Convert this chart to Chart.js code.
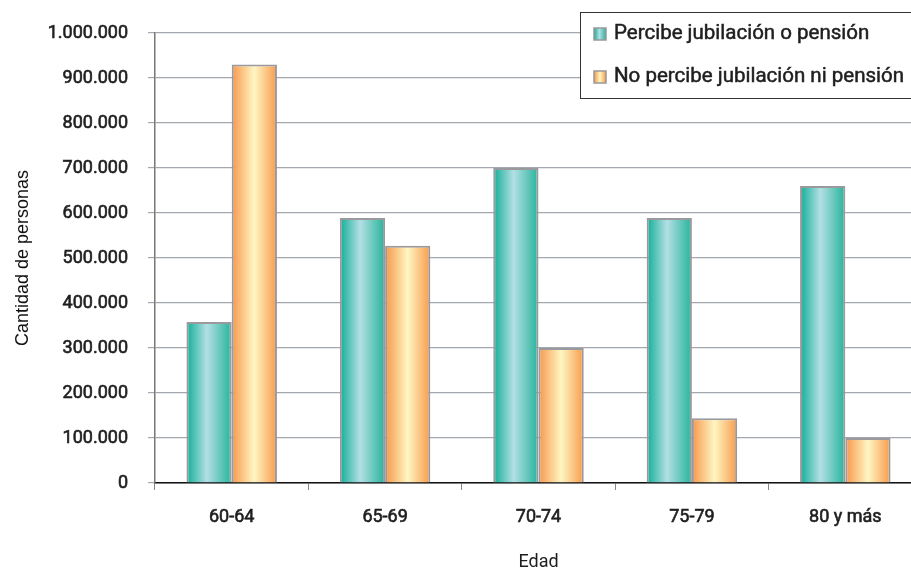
<!DOCTYPE html>
<html>
<head>
<meta charset="utf-8">
<script src="https://cdn.jsdelivr.net/npm/chart.js@4/dist/chart.umd.min.js"></script>
<style>
html,body{margin:0;padding:0;background:#fff;overflow:hidden;}
#wrap{position:relative;width:925px;height:569px;}
</style>
</head>
<body>
<div id="wrap"><canvas id="c" width="925" height="569"></canvas></div>
<script>
const categories = ["60-64", "65-69", "70-74", "75-79", "80 y más"];
const seriesNames = ["Percibe jubilación o pensión", "No percibe jubilación ni pensión"];
const percibe = [358000, 589000, 700000, 589000, 660000];
const noPercibe = [930000, 527000, 300000, 144000, 100000];
const yTicks = [0, 100000, 200000, 300000, 400000, 500000, 600000, 700000, 800000, 900000, 1000000];
const axisTitles = {x: "Edad", y: "Cantidad de personas"};

const gradStops = [
  [[0, "#10ae97"], [0.45, "#b3dfe4"], [1, "#25b49a"]],
  [[0, "#f7974a"], [0.5, "#fff6c2"], [1, "#f89a4c"]]
];
const CAT_PCT = 0.59;
const TXT = "#1e1e1e";

function fmt(v){ return String(v).replace(/\B(?=(\d{3})+(?!\d))/g, "."); }

function makeGrad(ctx, x0, x1, stops){
  const g = ctx.createLinearGradient(x0, 0, x1, 0);
  stops.forEach(s => g.addColorStop(s[0], s[1]));
  return g;
}

function barFill(c){
  const chart = c.chart, di = c.datasetIndex;
  const xs = chart.scales && chart.scales.x;
  const fallback = gradStops[di][0][1];
  if (!xs || !isFinite(xs.width) || xs.width <= 0 || c.dataIndex === undefined) return fallback;
  const cx = xs.getPixelForValue(c.dataIndex);
  const catW = xs.width / categories.length;
  const bw = catW * CAT_PCT / 2;
  const x0 = cx - bw + di * bw;
  return makeGrad(chart.ctx, x0, x0 + bw, gradStops[di]);
}

const legendPlugin = {
  id: "boxLegend",
  afterDraw(chart){
    const ctx = chart.ctx;
    ctx.save();
    ctx.fillStyle = "#fff";
    ctx.fillRect(580, 12, 345, 86);
    ctx.strokeStyle = "#333";
    ctx.lineWidth = 1;
    ctx.strokeRect(580.5, 12.5, 345, 86);
    const ys = [34, 77];
    chart.data.datasets.forEach((ds, i) => {
      const y = ys[i];
      ctx.fillStyle = makeGrad(ctx, 594, 606, gradStops[i]);
      ctx.fillRect(594, y - 6, 12, 12);
      ctx.strokeStyle = "#999";
      ctx.lineWidth = 1.5;
      ctx.strokeRect(594, y - 6, 12, 12);
      ctx.fillStyle = TXT;
      ctx.strokeStyle = TXT;
      ctx.lineWidth = 0.5;
      ctx.font = "20.5px Roboto";
      ctx.textBaseline = "middle";
      ctx.textAlign = "left";
      ctx.strokeText(ds.label, 614, y);
      ctx.fillText(ds.label, 614, y);
    });
    ctx.restore();
  }
};

const tickFont = {family: "Roboto", size: 18};

new Chart(document.getElementById("c"), {
  type: "bar",
  data: {
    labels: categories,
    datasets: [
      {label: seriesNames[0], data: percibe, borderColor: "#9a9a9e", borderWidth: 2, backgroundColor: barFill},
      {label: seriesNames[1], data: noPercibe, borderColor: "#9a9a9e", borderWidth: 2, backgroundColor: barFill}
    ]
  },
  options: {
    responsive: false,
    animation: false,
    events: [],
    layout: {padding: {top: 33, right: 3, left: 0, bottom: 0}},
    datasets: {bar: {categoryPercentage: CAT_PCT, barPercentage: 1.0}},
    plugins: {legend: {display: false}, tooltip: {enabled: false}},
    scales: {
      x: {
        grid: {drawOnChartArea: false, drawTicks: true, tickLength: 7, color: "#888", offset: true},
        border: {color: "#111", width: 1.5},
        ticks: {color: TXT, font: tickFont, padding: 17, textStrokeColor: TXT, textStrokeWidth: 0.6},
        title: {display: true, text: axisTitles.x, color: TXT, font: {family: "Roboto", size: 18, lineHeight: 0.75}, padding: {top: 14, bottom: 0}},
        afterFit(s){ s.height = 86; }
      },
      y: {
        min: 0, max: 1000000,
        afterBuildTicks(s){ s.ticks = yTicks.map(v => ({value: v})); },
        grid: {color: "#a3a7ae", lineWidth: 1.2, drawTicks: true, tickLength: 7},
        border: {color: "#777", width: 1.5},
        ticks: {color: TXT, font: tickFont, padding: 20, callback: v => fmt(v), textStrokeColor: TXT, textStrokeWidth: 0.6},
        title: {display: true, text: axisTitles.y, color: "#111", font: {family: "Liberation Sans", size: 18}, padding: {top: 12, bottom: 0}},
        afterFit(s){ s.width = 155; }
      }
    }
  },
  plugins: [legendPlugin]
});
</script>
</body>
</html>
